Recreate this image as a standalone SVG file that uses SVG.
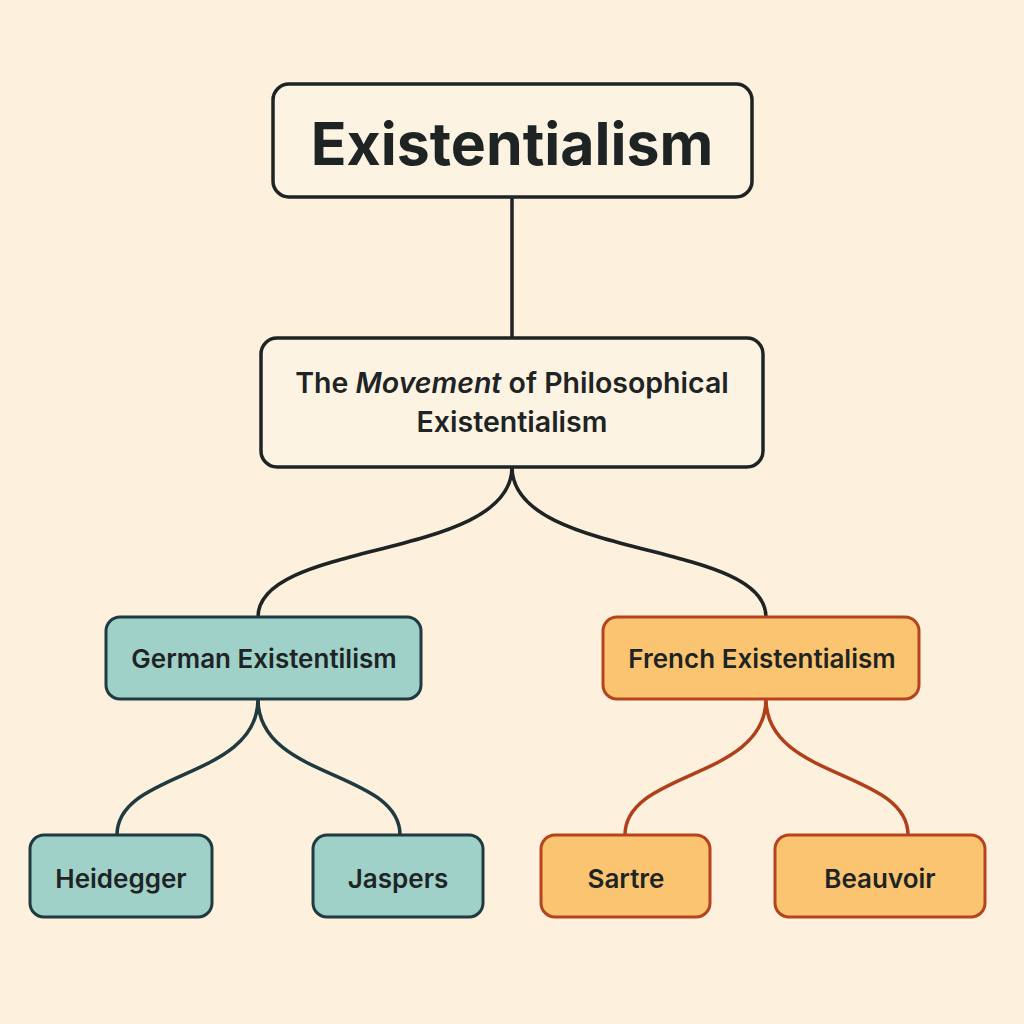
<svg xmlns="http://www.w3.org/2000/svg" width="1024" height="1024" viewBox="0 0 1024 1024">
<style>
text{font-family:Inter,"Liberation Sans",sans-serif;fill:#1e2424;text-anchor:middle}
.n{font-size:26px;font-weight:600}
.g rect{fill:#9FD1C9;stroke:#1f3a40;stroke-width:3}
.f rect{fill:#FBC470;stroke:#B5441E;stroke-width:3}
.w rect{fill:#FDF3E3;stroke:#1e2424;stroke-width:3.5}
#c path{fill:none;stroke-width:3.5}
</style>
<rect width="1024" height="1024" fill="#FDF0DC"/>
<g id="c">
<path d="M512 197V338" stroke="#1e2424"/>
<path d="M512 467C512 560 258 540 258 617M512 467C512 560 766 540 766 617" stroke="#1e2424"/>
<path d="M258 699C258 780 117 770 117 835M258 699C258 780 400 770 400 835" stroke="#1f3a40"/>
<path d="M766 699C766 780 625 770 625 835M766 699C766 780 908 770 908 835" stroke="#B0401C"/>
</g>
<g id="root" class="w"><rect x="273" y="84" width="479" height="113" rx="16"/><text x="512" y="165" font-size="59" font-weight="700">Existentialism</text></g>
<g id="movement" class="w"><rect x="261" y="338" width="502" height="129" rx="16"/><text x="512" y="393" font-size="28.5" font-weight="600">The <tspan font-style="italic">Movement</tspan> of Philosophical</text><text x="512" y="432" font-size="28.5" font-weight="600">Existentialism</text></g>
<g id="german" class="g"><rect x="106" y="617" width="315" height="82" rx="14"/><text class="n" x="264" y="668">German Existentilism</text></g>
<g id="french" class="f"><rect x="603" y="617" width="316" height="82" rx="14"/><text class="n" x="762" y="668">French Existentialism</text></g>
<g id="heidegger" class="g"><rect x="30" y="835" width="182" height="82" rx="14"/><text class="n" x="121" y="888">Heidegger</text></g>
<g id="jaspers" class="g"><rect x="313" y="835" width="170" height="82" rx="14"/><text class="n" x="398" y="888">Jaspers</text></g>
<g id="sartre" class="f"><rect x="541" y="835" width="169" height="82" rx="14"/><text class="n" x="626" y="888">Sartre</text></g>
<g id="beauvoir" class="f"><rect x="775" y="835" width="210" height="82" rx="14"/><text class="n" x="880" y="888">Beauvoir</text></g>
</svg>
